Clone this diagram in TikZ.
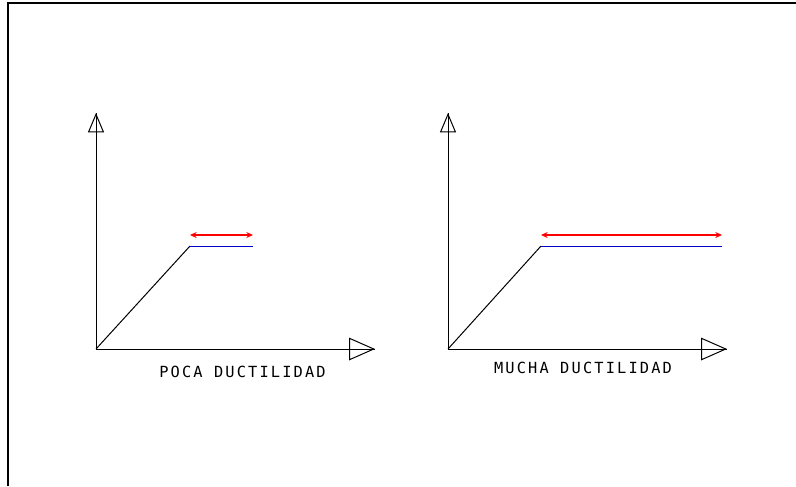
\documentclass[tikz,border=0pt]{standalone}
\usepackage{fontspec}
\setmainfont{DejaVu Sans Mono}
\usetikzlibrary{arrows.meta,positioning}
\tikzset{
   every path/.style={line width=0.75pt},
   axisv/.style={-{Triangle[open,length=14.5pt,width=12pt]},black},
   axish/.style={-{Triangle[open,length=19.5pt,width=17pt]},black},
   ramp/.style={black},
   plateau/.style={draw=blue!80!black},
   duct/.style={{Stealth[length=5pt,width=4.5pt]}-{Stealth[length=5pt,width=4.5pt]},draw=red,line width=1pt},
   caption/.style={font=\fontsize{11.5pt}{13pt}\selectfont\addfontfeature{LetterSpace=14},inner sep=0pt},
}
\begin{document}
\begin{tikzpicture}[x=0.75pt,y=-0.75pt]
  \useasboundingbox (0,0) rectangle (796,486);
  % frame
  \draw [line width=1.1pt] (8,486) -- (8,3) -- (796,3);

  % left graph
  \coordinate (o1) at (96,349);
  \coordinate (y1) at (96,113);
  \coordinate (x1) at (375,349);
  \coordinate (k1) at (190,246);
  \coordinate (e1) at (253,246);
  \coordinate (a1) at (190,235);
  \coordinate (b1) at (253,235);
  \draw (o1) -- (y1);
  \draw (o1) -- (x1);
  \draw [axisv] (o1) -- (y1);
  \draw [axish] (o1) -- (x1);
  \draw [ramp] (o1) -- (k1);
  \draw [plateau] (k1) -- (e1);
  \draw [duct] (a1) -- (b1);
  \node [caption] (l1) at (242.5,372) {POCA DUCTILIDAD};

  % right graph
  \coordinate (o2) at (448,349);
  \coordinate (y2) at (448,113);
  \coordinate (x2) at (727,349);
  \coordinate (k2) at (541,246);
  \coordinate (e2) at (722,246);
  \coordinate (a2) at (541,235);
  \coordinate (b2) at (722,235);
  \draw (o2) -- (y2);
  \draw (o2) -- (x2);
  \draw [axisv] (o2) -- (y2);
  \draw [axish] (o2) -- (x2);
  \draw [ramp] (o2) -- (k2);
  \draw [plateau] (k2) -- (e2);
  \draw [duct] (a2) -- (b2);
  \node [caption] (l2) at (583,367.5) {MUCHA DUCTILIDAD};
\end{tikzpicture}
\end{document}
